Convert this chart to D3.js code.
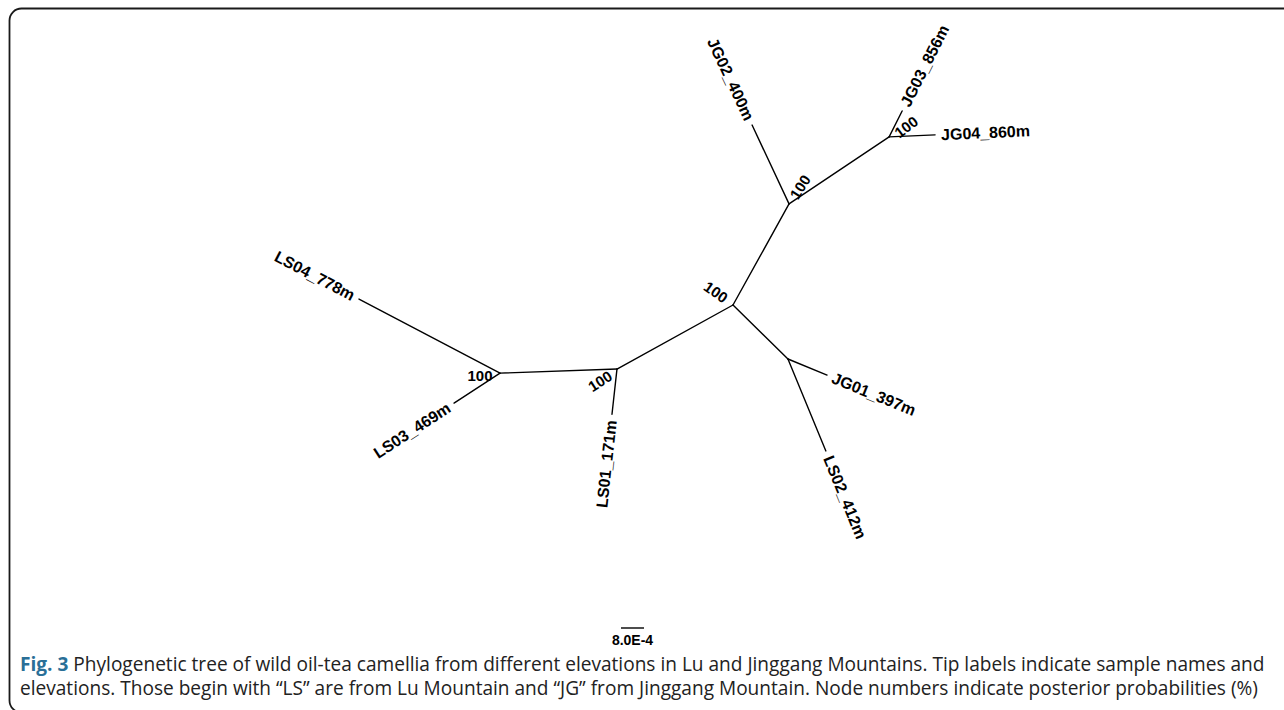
<!DOCTYPE html>
<html>
<head>
<meta charset="utf-8">
<script src="https://cdn.jsdelivr.net/npm/d3@7"></script>
<style>
  html, body { margin: 0; padding: 0; background: #fff; }
  svg { display: block; }
</style>
</head>
<body>
<svg id="chart" width="1284" height="710"></svg>
<script>
// Unrooted phylogeny: every branch joins a parent node to a child node.
const branchParent = ["n0", "n1", "n2", "n2", "n1", "n0", "n3", "n3", "n4", "n4", "n0", "n5", "n5"];
const branchChild  = ["n1", "n2", "LS04_778m", "LS03_469m", "LS01_171m", "n3", "JG02_400m", "n4",
                      "JG03_856m", "JG04_860m", "n5", "JG01_397m", "LS02_412m"];
// Branch lengths (substitutions per site)
const branchLength = [0.00461, 0.00407, 0.00554, 0.00191, 0.00158, 0.00402, 0.00303, 0.00419,
                      0.00101, 0.00160, 0.00268, 0.00147, 0.00346];
// Internal nodes carrying posterior probabilities (%)
const supportNode  = ["n2", "n1", "n0", "n3", "n4"];
const supportValue = [100, 100, 100, 100, 100];
// Scale bar length
const scaleBarValue = 8.0e-4;
const scaleBarLabel = "8.0E-4";

// Layout: direction of each branch (degrees, counter-clockwise from east)
const branchAngle = [208.9, 182.0, 152.3, 213.1, 263.7, 61.0, 115.1, 33.8, 63.4, 2.5, 315.5, 337.7, 292.4];
// Layout: placement of the support labels around their node (px offset, rotation)
const supportOffset = { n2: [-20, 2, 0], n1: [-17, 12, -33], n0: [-17, -13, 35], n3: [11, -17, -58], n4: [17, -10, -37] };

const svg = d3.select("#chart");
const W = 1284, H = 710;

// Panel frame with rounded corner
svg.append("rect")
  .attr("x", 9.5).attr("y", 8.5)
  .attr("width", W + 20).attr("height", 704)
  .attr("rx", 12).attr("ry", 12)
  .attr("fill", "none").attr("stroke", "#1a1a1a").attr("stroke-width", 1.8);

// Tree coordinates: root node at origin, lengths in substitutions/site
const pxPerUnit = 23 / scaleBarValue;
const x = d3.scaleLinear().domain([0, 1]).range([733, 733 + pxPerUnit]);
const y = d3.scaleLinear().domain([0, 1]).range([305, 305 - pxPerUnit]);

const pos = { n0: [0, 0] };
const dirOf = {};
// parents always appear before children in the branch list
branchChild.forEach((c, i) => {
  const p = pos[branchParent[i]];
  const a = branchAngle[i] * Math.PI / 180;
  pos[c] = [p[0] + branchLength[i] * Math.cos(a), p[1] + branchLength[i] * Math.sin(a)];
  dirOf[c] = branchAngle[i];
});

const g = svg.append("g");
g.selectAll("line.branch")
  .data(branchChild.map((c, i) => ({ p: branchParent[i], c })))
  .join("line")
  .attr("class", "branch")
  .attr("x1", d => x(pos[d.p][0])).attr("y1", d => y(pos[d.p][1]))
  .attr("x2", d => x(pos[d.c][0])).attr("y2", d => y(pos[d.c][1]))
  .attr("stroke", "#000").attr("stroke-width", 1.4).attr("stroke-linecap", "round");

// Tip labels, oriented along their branch and kept upright
const tipNames = branchChild.filter(c => !c.startsWith("n"));
g.selectAll("text.tip")
  .data(tipNames)
  .join("text")
  .attr("class", "tip")
  .attr("transform", d => {
    const a = dirOf[d];
    const r = a * Math.PI / 180;
    const tx = x(pos[d][0]) + 6 * Math.cos(r);
    const ty = y(pos[d][1]) - 6 * Math.sin(r);
    const flip = a > 90 && a < 270;
    const rot = flip ? -(a - 180) : -a;
    return `translate(${tx},${ty}) rotate(${rot})`;
  })
  .attr("text-anchor", d => (dirOf[d] > 90 && dirOf[d] < 270) ? "end" : "start")
  .attr("dominant-baseline", "central")
  .attr("font-family", "'Liberation Sans', Arial, sans-serif")
  .attr("font-weight", "bold")
  .attr("font-size", 16)
  .attr("fill", "#000")
  .text(d => d);

// Node support values
g.selectAll("text.support")
  .data(supportNode.map((n, i) => ({ n, v: supportValue[i] })))
  .join("text")
  .attr("class", "support")
  .attr("transform", d => {
    const o = supportOffset[d.n];
    return `translate(${x(pos[d.n][0]) + o[0]},${y(pos[d.n][1]) + o[1]}) rotate(${o[2]})`;
  })
  .attr("text-anchor", "middle")
  .attr("dominant-baseline", "central")
  .attr("font-family", "'Liberation Sans', Arial, sans-serif")
  .attr("font-weight", "bold")
  .attr("font-size", 15)
  .attr("fill", "#000")
  .text(d => d.v);

// Scale bar
const sbX = 621, sbY = 628;
svg.append("line")
  .attr("x1", sbX).attr("y1", sbY)
  .attr("x2", sbX + (x(scaleBarValue) - x(0))).attr("y2", sbY)
  .attr("stroke", "#000").attr("stroke-width", 1.4);
svg.append("text")
  .attr("x", sbX + (x(scaleBarValue) - x(0)) / 2).attr("y", 645)
  .attr("text-anchor", "middle")
  .attr("font-family", "'Liberation Sans', Arial, sans-serif")
  .attr("font-weight", "bold").attr("font-size", 14)
  .text(scaleBarLabel);

// Figure caption
const cap = svg.append("g")
  .attr("font-family", "'Open Sans', 'Noto Sans', sans-serif")
  .attr("fill", "#222");
const line1 = cap.append("text").attr("x", 20).attr("y", 671).attr("font-size", 16);
line1.append("tspan").attr("font-weight", "bold").attr("fill", "#2a6f97").text("Fig. 3");
line1.append("tspan").text(" Phylogenetic tree of wild oil-tea camellia from different elevations in Lu and Jinggang Mountains. Tip labels indicate sample names and");
const line2 = cap.append("text").attr("x", 20).attr("y", 695).attr("font-size", 16)
  .text("elevations. Those begin with \u201cLS\u201d are from Lu Mountain and \u201cJG\u201d from Jinggang Mountain. Node numbers indicate posterior probabilities (%)");
// size caption so the first line spans the panel width
const w1 = line1.node().getComputedTextLength();
const fs = 16 * 1245 / w1;
line1.attr("font-size", fs);
line2.attr("font-size", fs);
</script>
</body>
</html>
